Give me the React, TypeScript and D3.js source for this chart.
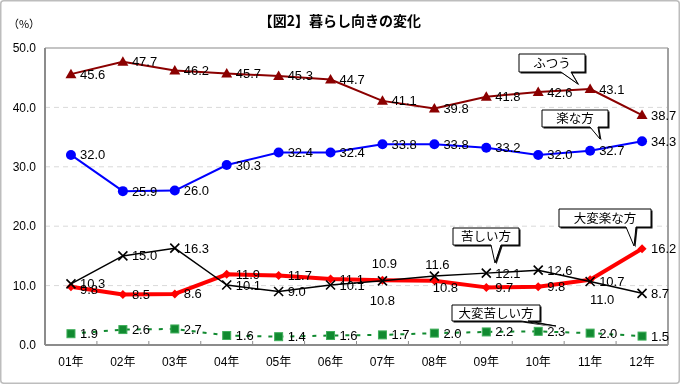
import * as d3 from 'd3';

// 暮らし向きの変化 (%)
const years = ['01年', '02年', '03年', '04年', '05年', '06年', '07年', '08年', '09年', '10年', '11年', '12年'];
const futsuu = [45.6, 47.7, 46.2, 45.7, 45.3, 44.7, 41.1, 39.8, 41.8, 42.6, 43.1, 38.7];
const rakuna = [32.0, 25.9, 26.0, 30.3, 32.4, 32.4, 33.8, 33.8, 33.2, 32.0, 32.7, 34.3];
const kurushii = [10.3, 15.0, 16.3, 10.1, 9.0, 10.1, 10.8, 11.6, 12.1, 12.6, 10.7, 8.7];
const taihenRaku = [9.8, 8.5, 8.6, 11.9, 11.7, 11.1, 10.9, 10.8, 9.7, 9.8, 11.0, 16.2];
const taihenKurushii = [1.9, 2.6, 2.7, 1.6, 1.4, 1.6, 1.7, 2.0, 2.2, 2.3, 2.0, 1.5];
const yTicks = [0, 10, 20, 30, 40, 50];

const W = 680;
const H = 384;
const margin = { top: 48, right: 12, bottom: 39, left: 45 };
const NUM_FONT = '"Liberation Sans", Arial, "Noto Sans CJK JP", sans-serif';
const JP_FONT = '"Noto Sans CJK JP", "Liberation Sans", sans-serif';

type Marker = 'triangle' | 'circle' | 'cross' | 'diamond' | 'square';

interface Series {
  key: string;
  values: number[];
  color: string;
  width: number;
  dash?: string;
  marker: Marker;
  // label tweaks by index: dx, dy, anchor
  labelTweaks?: Record<number, [number, number, string]>;
}

const series: Series[] = [
  { key: 'futsuu', values: futsuu, color: '#8b0000', width: 2, marker: 'triangle' },
  { key: 'rakuna', values: rakuna, color: '#0000ff', width: 2, marker: 'circle' },
  {
    key: 'taihenRaku', values: taihenRaku, color: '#ff0000', width: 4, marker: 'diamond',
    labelTweaks: { 0: [9, 3, 'start'], 6: [2, -17, 'middle'], 7: [11, 7, 'middle'], 10: [12, 20, 'middle'] },
  },
  {
    key: 'kurushii', values: kurushii, color: '#000000', width: 1.5, marker: 'cross',
    labelTweaks: { 6: [0, 20, 'middle'], 7: [3, -12, 'middle'] },
  },
  { key: 'taihenKurushii', values: taihenKurushii, color: '#118a30', width: 2, dash: '4,7', marker: 'square' },
];

// callouts: label, box [x0, y0, x1, y1], tail base [bx0, bx1], tip [tx, ty]
const callouts: { text: string; box: number[]; base: number[]; tip: number[] }[] = [
  { text: 'ふつう', box: [519, 54, 585, 72], base: [561, 571], tip: [578, 84] },
  { text: '楽な方', box: [542, 110, 608, 127], base: [590, 598], tip: [600, 139] },
  { text: '苦しい方', box: [453, 228, 519, 245], base: [491, 501], tip: [495, 263] },
  { text: '大変楽な方', box: [559, 209, 651, 227], base: [626, 636], tip: [634, 246] },
  { text: '大変苦しい方', box: [452, 305, 540, 321], base: [521, 528], tip: [556, 326] },
];

function markerShape(m: Marker, cx: number, cy: number, color: string, key: string) {
  switch (m) {
    case 'triangle':
      return <path key={key} d={`M${cx},${cy - 5.5}L${cx + 5.5},${cy + 4}L${cx - 5.5},${cy + 4}Z`} fill={color} />;
    case 'circle':
      return <circle key={key} cx={cx} cy={cy} r={5} fill={color} />;
    case 'diamond':
      return <path key={key} d={`M${cx},${cy - 4.5}L${cx + 4.5},${cy}L${cx},${cy + 4.5}L${cx - 4.5},${cy}Z`} fill={color} />;
    case 'square':
      return <rect key={key} x={cx - 4} y={cy - 4} width={8} height={8} fill={color} stroke="#3fae5a" strokeWidth={1} />;
    case 'cross':
      return (
        <path key={key} d={`M${cx - 4.5},${cy - 4.5}L${cx + 4.5},${cy + 4.5}M${cx + 4.5},${cy - 4.5}L${cx - 4.5},${cy + 4.5}`}
          stroke={color} strokeWidth={1.6} fill="none" />
      );
  }
}

export default function App() {
  const x = d3.scaleBand().domain(years).range([margin.left, W - margin.right]);
  const y = d3.scaleLinear().domain([0, 50]).range([H - margin.bottom, margin.top]);
  const cx = (d: string) => (x(d) ?? 0) + x.bandwidth() / 2;
  const fmt = d3.format('.1f');
  const line = d3.line<number>().x((_, i) => cx(years[i])).y((v) => y(v));

  const x0 = margin.left;
  const x1 = W - margin.right;
  const y0 = y(0);
  const y50 = y(50);

  return (
    <div style={{ position: 'fixed', left: 0, top: 0 }}>
      <svg width={W} height={H} style={{ display: 'block' }}>
        <rect x={0.75} y={0.75} width={W - 1.5} height={H - 1.5} rx={3} fill="#fff" stroke="#bdbdbd" strokeWidth={1.5} />

        <text x={340} y={26} textAnchor="middle" fontFamily={JP_FONT} fontSize={14} fontWeight="bold" fill="#000">
          【図2】暮らし向きの変化
        </text>
        <text x={24} y={28} textAnchor="middle" fontFamily={JP_FONT} fontSize={11} fill="#000">
          （%）
        </text>

        {/* grid */}
        {yTicks.filter((t) => t > 0 && t < 50).map((t) => (
          <line key={t} x1={x0} x2={x1} y1={y(t)} y2={y(t)} stroke="#d9d9d9" strokeDasharray="5,4" strokeWidth={1} />
        ))}

        {/* plot frame */}
        <line x1={x0} x2={x1} y1={y50} y2={y50} stroke="#b0b0b0" strokeWidth={1.5} />
        <line x1={x1} x2={x1} y1={y50} y2={y0} stroke="#a0a0a0" strokeWidth={2} />
        <line x1={x0} x2={x0} y1={y50} y2={y0} stroke="#8c8c8c" strokeWidth={2} />
        <line x1={x0} x2={x1} y1={y0} y2={y0} stroke="#8c8c8c" strokeWidth={2} />
        {years.slice(1).map((d) => (
          <line key={d} x1={x(d)} x2={x(d)} y1={y0} y2={y0 - 4} stroke="#8c8c8c" strokeWidth={1} />
        ))}

        {/* y tick labels */}
        {yTicks.map((t) => (
          <text key={t} x={36} y={y(t)} dy="0.35em" textAnchor="end" fontFamily={NUM_FONT} fontSize={12} fill="#000">
            {fmt(t)}
          </text>
        ))}

        {/* x labels */}
        {years.map((d) => (
          <text key={d} x={cx(d)} y={y0 + 21} textAnchor="middle" fontFamily={NUM_FONT} fontSize={12} fill="#000">
            {d}
          </text>
        ))}

        {/* series */}
        {series.map((s) => (
          <g key={s.key}>
            <path d={line(s.values) ?? ''} fill="none" stroke={s.color} strokeWidth={s.width}
              strokeDasharray={s.dash} strokeLinejoin="round" />
            {s.values.map((v, i) => markerShape(s.marker, cx(years[i]), y(v), s.color, `${s.key}-m${i}`))}
          </g>
        ))}

        {/* data labels */}
        {series.map((s) => (
          <g key={`${s.key}-labels`}>
            {s.values.map((v, i) => {
              const tw = s.labelTweaks?.[i];
              const dx = tw ? tw[0] : 9;
              const dy = tw ? tw[1] : 0;
              const anchor = tw ? tw[2] : 'start';
              return (
                <text key={i} x={cx(years[i]) + dx} y={y(v) + dy} dy="0.35em" textAnchor={anchor}
                  fontFamily={NUM_FONT} fontSize={13} fill="#000">
                  {fmt(v)}
                </text>
              );
            })}
          </g>
        ))}

        {/* callouts */}
        {callouts.map((c) => {
          const [bx0, by0, bx1, by1] = c.box;
          const p = `M${bx0},${by0}H${bx1}V${by1}H${c.base[1]}L${c.tip[0]},${c.tip[1]}L${c.base[0]},${by1}H${bx0}Z`;
          return (
            <g key={c.text}>
              <path d={p} transform="translate(1.5,1.5)" fill="#111" />
              <path d={p} fill="#fff" stroke="#000" strokeWidth={1} />
              <text x={(bx0 + bx1) / 2} y={(by0 + by1) / 2} dy="0.36em" textAnchor="middle"
                fontFamily={JP_FONT} fontSize={12.5} fill="#000">
                {c.text}
              </text>
            </g>
          );
        })}
      </svg>
    </div>
  );
}
